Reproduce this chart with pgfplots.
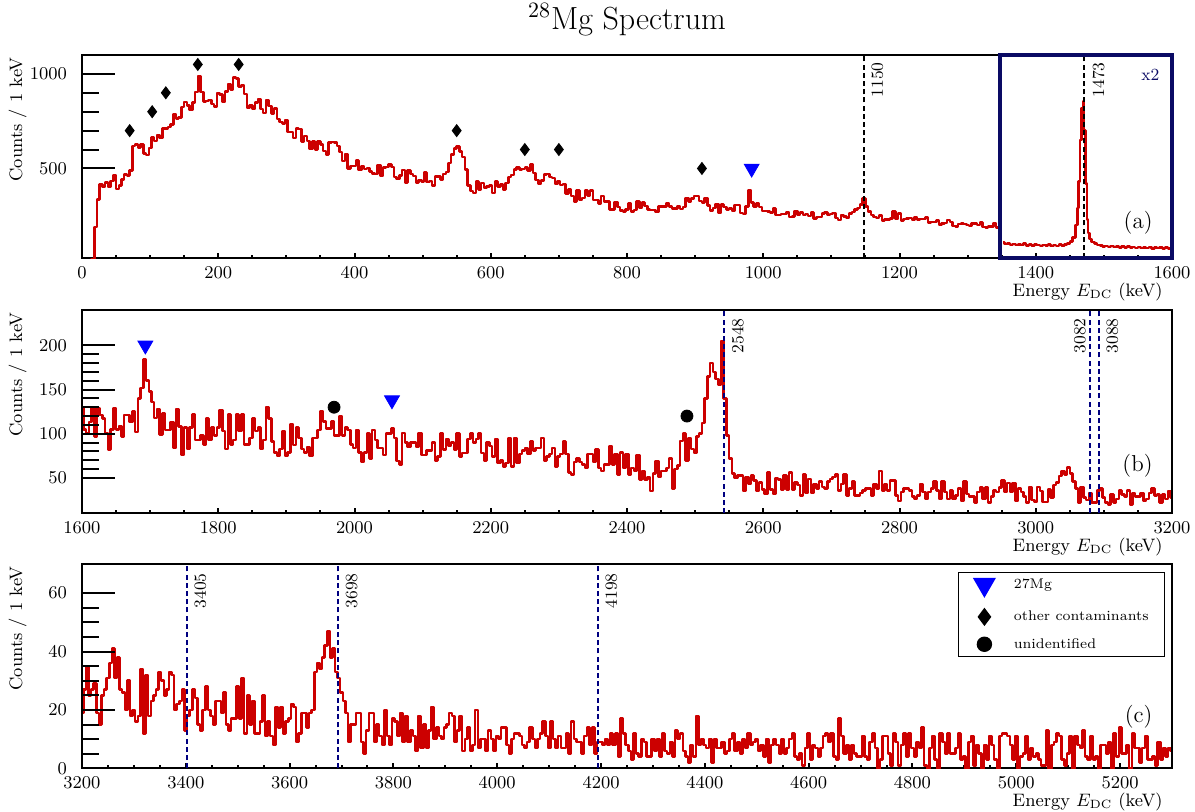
\documentclass[border=0pt]{standalone}
\usepackage{pgfplots}
\pgfplotsset{compat=1.18}
\usepackage{pgfplotstable}
\definecolor{hred}{RGB}{204,0,0}
\definecolor{navy}{RGB}{0,0,128}
\definecolor{boxnavy}{RGB}{10,10,100}
\definecolor{mblue}{RGB}{0,0,255}

\tikzset{
 dline/.style={dash pattern=on 2.5pt off 1.6pt, line width=1pt},
 vlab/.style={rotate=90, inner sep=0pt, font=\fontsize{8.5}{9}\selectfont},
}
\pgfplotsset{
 common/.style={scale only axis, width=545pt, anchor=south west,
   axis line style={line width=1pt}, tick style={line width=1pt, black},
   tick align=inside, tick label style={font=\fontsize{9}{10}\selectfont},
   /pgf/number format/1000 sep={}},
 main/.style={common, ytick=\empty, xtick pos=left, minor x tick num=3,
   major tick length=2.75pt, minor tick length=1.5pt,
   xlabel={Energy $E_{\mathrm{DC}}$ (keV)},
   xlabel style={at={(rel axis cs:1,0)}, anchor=north east, inner sep=0pt, yshift=-12pt, xshift=-4.5pt, font=\fontsize{9}{10}\selectfont},
   xticklabel style={yshift=-1pt}},
 yover/.style={common, hide x axis, ytick pos=left, major tick length=16.5pt, minor tick length=8.5pt, clip=false,
   ylabel={Counts / 1 keV},
   ylabel style={at={(axis description cs:-0.0505,0.99)}, anchor=south east, inner sep=0pt, font=\fontsize{9}{10}\selectfont},
   yticklabel style={xshift=-4pt}},
 spec/.style={hred, line width=1.25pt, line join=round, no markers, const plot mark mid},
}

\pgfplotstableread[row sep=\\]{
x y\\
0 0\\4 0\\8 0\\12 0\\16 20\\20 190\\24 335\\28 415\\
32 402\\36 426\\40 402\\44 434\\48 466\\52 392\\56 410\\60 442\\64 469\\68 463\\72 489\\76 618\\80 626\\84 610\\88 626\\92 578\\96 570\\
100 608\\104 663\\108 646\\112 677\\116 660\\120 712\\124 711\\128 718\\132 733\\136 788\\140 763\\144 770\\148 825\\152 851\\156 834\\160 809\\164 850\\168 905\\172 990\\176 905\\180 855\\184 858\\188 863\\192 841\\196 827\\
200 898\\204 890\\208 852\\212 907\\216 946\\220 918\\224 981\\228 975\\232 933\\236 940\\240 894\\244 820\\248 832\\252 814\\256 849\\260 868\\264 815\\268 794\\272 861\\276 830\\280 791\\284 816\\288 761\\292 746\\296 739\\
300 756\\304 692\\308 693\\312 661\\316 710\\320 708\\324 642\\328 672\\332 646\\336 604\\340 642\\344 600\\348 643\\352 627\\356 592\\360 574\\364 636\\368 641\\372 636\\376 618\\380 587\\384 540\\388 576\\392 499\\396 513\\
400 514\\404 543\\408 492\\412 514\\416 496\\420 502\\424 484\\428 474\\432 472\\436 518\\440 459\\444 504\\448 508\\452 520\\456 508\\460 456\\464 444\\468 464\\472 493\\476 426\\480 488\\484 470\\488 460\\492 426\\496 440\\
500 430\\504 478\\508 428\\512 434\\516 409\\520 457\\524 457\\528 441\\532 470\\536 480\\540 530\\544 575\\548 605\\552 615\\556 590\\560 560\\564 495\\568 410\\572 380\\576 370\\580 430\\584 390\\588 424\\592 396\\596 404\\
600 410\\604 370\\608 430\\612 404\\616 414\\620 390\\624 424\\628 454\\632 465\\636 495\\640 505\\644 494\\648 497\\652 505\\656 488\\660 520\\664 475\\668 440\\672 418\\676 435\\680 468\\684 472\\688 455\\692 450\\696 419\\
700 434\\704 413\\708 419\\712 368\\716 390\\720 354\\724 324\\728 384\\732 334\\736 344\\740 384\\744 356\\748 384\\752 334\\756 334\\760 316\\764 355\\768 326\\772 324\\776 282\\780 284\\784 322\\788 296\\792 278\\796 272\\
800 282\\804 314\\808 272\\812 280\\816 324\\820 290\\824 320\\828 302\\832 282\\836 280\\840 280\\844 270\\848 300\\852 299\\856 298\\860 318\\864 300\\868 288\\872 288\\876 302\\880 286\\884 296\\888 344\\892 324\\896 340\\
900 355\\904 354\\908 329\\912 320\\916 344\\920 305\\924 279\\928 292\\932 312\\936 265\\940 309\\944 295\\948 283\\952 289\\956 274\\960 308\\964 306\\968 265\\972 259\\976 300\\980 385\\984 320\\988 300\\992 314\\996 296\\
1000 276\\1004 276\\1008 273\\1012 267\\1016 287\\1020 255\\1024 254\\1028 260\\1032 260\\1036 269\\1040 244\\1044 246\\1048 276\\1052 254\\1056 268\\1060 254\\1064 260\\1068 249\\1072 268\\1076 236\\1080 244\\1084 244\\1088 263\\1092 266\\1096 255\\
1100 260\\1104 264\\1108 238\\1112 227\\1116 253\\1120 246\\1124 238\\1128 262\\1132 270\\1136 282\\1140 290\\1144 310\\1148 340\\1152 300\\1156 272\\1160 255\\1164 242\\1168 238\\1172 250\\1176 224\\1180 230\\1184 229\\1188 236\\1192 272\\1196 234\\
1200 263\\1204 226\\1208 234\\1212 235\\1216 237\\1220 228\\1224 243\\1228 230\\1232 233\\1236 232\\1240 241\\1244 214\\1248 218\\1252 218\\1256 224\\1260 200\\1264 209\\1268 212\\1272 227\\1276 218\\1280 197\\1284 194\\1288 207\\1292 210\\1296 205\\
1300 200\\1304 197\\1308 208\\1312 209\\1316 200\\1320 215\\1324 190\\1328 187\\1332 194\\1336 193\\1340 212\\1344 187\\
}\dataA

\pgfplotstableread[row sep=\\]{
x y\\
1352 108\\1356 100\\1360 104\\1364 96\\1368 101\\1372 94\\1376 99\\1380 95\\1384 102\\1388 93\\1392 97\\1396 92\\1400 98\\1404 94\\1408 90\\1412 96\\1416 92\\1420 99\\1424 91\\1428 95\\1432 90\\1436 97\\1440 93\\1444 98\\1448 102\\
1452 115\\1456 135\\1460 200\\1462 290\\1464 430\\1466 650\\1468 820\\1470 855\\1472 700\\1474 420\\1476 230\\1478 160\\1480 128\\1484 112\\1488 104\\1492 96\\1496 92\\
1500 88\\1504 91\\1508 85\\1512 89\\1516 84\\1520 88\\1524 83\\1528 87\\1532 82\\1536 86\\1540 81\\1544 85\\1548 80\\1552 84\\1556 79\\1560 83\\1564 80\\1568 84\\1572 78\\1576 82\\1580 79\\1584 83\\1588 77\\1592 81\\1596 78\\1600 76\\
}\dataAi

\pgfplotstableread[row sep=\\]{
x y\\
1600 129\\1604 105\\1608 101\\1612 113\\1616 129\\1620 97\\1624 129\\1628 121\\1632 117\\1636 101\\1640 82\\1644 105\\1648 129\\1652 105\\1656 109\\1660 97\\1664 121\\1668 121\\1672 113\\1676 125\\1680 102\\1684 140\\1688 152\\1692 184\\1696 160\\
1700 148\\1704 136\\1708 118\\1712 128\\1716 99\\1720 123\\1724 104\\1728 104\\1732 113\\1736 84\\1740 128\\1744 108\\1748 76\\1752 107\\1756 83\\1760 107\\1764 122\\1768 93\\1772 93\\1776 98\\1780 88\\1784 117\\1788 93\\1792 107\\1796 98\\
1800 107\\1804 127\\1808 103\\1812 83\\1816 122\\1820 88\\1824 93\\1828 122\\1832 103\\1836 122\\1840 88\\1844 88\\1848 95\\1852 117\\1856 103\\1860 107\\1864 83\\1868 93\\1872 130\\1876 117\\1880 91\\1884 79\\1888 75\\1892 83\\1896 103\\
1900 75\\1904 79\\1908 111\\1912 87\\1916 107\\1920 95\\1924 83\\1928 79\\1932 85\\1936 75\\1940 95\\1944 95\\1948 104\\1952 126\\1956 114\\1960 106\\1964 106\\1968 114\\1972 98\\1976 98\\1980 120\\1984 98\\1988 107\\1992 104\\1996 88\\
2000 84\\2004 104\\2008 79\\2012 68\\2016 79\\2020 100\\2024 72\\2028 104\\2032 93\\2036 84\\2040 84\\2044 76\\2048 100\\2052 100\\2056 106\\2060 95\\2064 69\\2068 65\\2072 101\\2076 90\\2080 85\\2084 90\\2088 90\\2092 85\\2096 101\\
2100 76\\2104 76\\2108 81\\2112 81\\2116 90\\2120 70\\2124 74\\2128 100\\2132 82\\2136 94\\2140 86\\2144 90\\2148 82\\2152 100\\2156 74\\2160 78\\2164 78\\2168 94\\2172 100\\2176 90\\2180 94\\2184 100\\2188 78\\2192 70\\2196 90\\
2200 86\\2204 74\\2208 94\\2212 67\\2216 70\\2220 63\\2224 67\\2228 95\\2232 63\\2236 95\\2240 67\\2244 77\\2248 81\\2252 84\\2256 77\\2260 91\\2264 81\\2268 84\\2272 84\\2276 95\\2280 70\\2284 74\\2288 77\\2292 84\\2296 63\\
2300 74\\2304 77\\2308 91\\2312 77\\2316 56\\2320 54\\2324 68\\2328 72\\2332 68\\2336 65\\2340 61\\2344 77\\2348 77\\2352 68\\2356 82\\2360 61\\2364 58\\2368 65\\2372 65\\2376 86\\2380 65\\2384 77\\2388 54\\2392 79\\2396 61\\
2400 77\\2404 54\\2408 61\\2412 58\\2416 76\\2420 48\\2424 58\\2428 48\\2432 51\\2436 35\\2440 55\\2444 69\\2448 51\\2452 58\\2456 58\\2460 61\\2464 72\\2468 38\\2472 60\\2476 64\\2480 92\\2484 100\\2488 70\\2492 95\\2496 83\\
2500 78\\2504 97\\2508 100\\2512 112\\2516 140\\2520 165\\2524 180\\2528 170\\2532 162\\2536 155\\2540 205\\2544 140\\2548 98\\2552 72\\2556 55\\2560 50\\2564 53\\2568 53\\2572 35\\2576 51\\2580 43\\2584 53\\2588 47\\2592 35\\2596 45\\
2600 37\\2604 32\\2608 56\\2612 37\\2616 32\\2620 50\\2624 48\\2628 37\\2632 53\\2636 37\\2640 56\\2644 37\\2648 45\\2652 42\\2656 30\\2660 54\\2664 33\\2668 49\\2672 33\\2676 43\\2680 38\\2684 46\\2688 40\\2692 38\\2696 46\\
2700 49\\2704 51\\2708 54\\2712 36\\2716 43\\2720 54\\2724 30\\2728 38\\2732 46\\2736 30\\2740 30\\2744 33\\2748 36\\2752 38\\2756 38\\2760 30\\2764 43\\2768 38\\2772 58\\2776 36\\2780 43\\2784 36\\2788 47\\2792 47\\2796 30\\
2800 24\\2804 34\\2808 38\\2812 38\\2816 36\\2820 29\\2824 26\\2828 30\\2832 43\\2836 34\\2840 26\\2844 34\\2848 38\\2852 46\\2856 36\\2860 26\\2864 46\\2868 34\\2872 26\\2876 36\\2880 26\\2884 30\\2888 38\\2892 24\\2896 46\\
2900 32\\2904 29\\2908 29\\2912 22\\2916 34\\2920 39\\2924 26\\2928 39\\2932 22\\2936 29\\2940 36\\2944 34\\2948 39\\2952 47\\2956 34\\2960 44\\2964 34\\2968 44\\2972 24\\2976 38\\2980 34\\2984 29\\2988 22\\2992 40\\2996 25\\
3000 23\\3004 40\\3008 35\\3012 23\\3016 23\\3020 37\\3024 28\\3028 42\\3032 45\\3036 52\\3040 58\\3044 54\\3048 62\\3052 55\\3056 46\\3060 38\\3064 22\\3068 40\\3072 28\\3076 25\\3080 33\\3084 22\\3088 22\\3092 36\\3096 38\\
3100 28\\3104 22\\3108 20\\3112 31\\3116 22\\3120 26\\3124 36\\3128 31\\3132 29\\3136 36\\3140 20\\3144 33\\3148 29\\3152 29\\3156 33\\3160 24\\3164 26\\3168 33\\3172 38\\3176 30\\3180 31\\3184 22\\3188 31\\3192 26\\3196 35\\3200 28\\
}\dataB

\pgfplotstableread[row sep=\\]{
x y\\
3200 19\\3205 27\\3210 35\\3215 25\\3220 27\\3225 29\\3230 19\\3235 15\\3240 25\\3245 27\\3250 31\\3255 36\\3260 41\\3265 31\\3270 38\\3275 27\\3280 26\\3285 20\\3290 30\\3295 18\\
3300 20\\3305 16\\3310 18\\3315 34\\3320 12\\3325 32\\3330 18\\3335 23\\3340 25\\3345 27\\3350 33\\3355 30\\3360 25\\3365 27\\3370 33\\3375 32\\3380 20\\3385 22\\3390 23\\3395 27\\
3400 13\\3405 18\\3410 20\\3415 27\\3420 24\\3425 15\\3430 13\\3435 20\\3440 28\\3445 20\\3450 18\\3455 15\\3460 23\\3465 23\\3470 19\\3475 26\\3480 15\\3485 13\\3490 17\\3495 17\\
3500 28\\3505 17\\3510 31\\3515 12\\3520 25\\3525 15\\3530 23\\3535 12\\3540 12\\3545 16\\3550 25\\3555 11\\3560 16\\3565 11\\3570 8\\3575 21\\3580 14\\3585 21\\3590 12\\3595 16\\
3600 17\\3605 22\\3610 21\\3615 9\\3620 12\\3625 19\\3630 19\\3635 14\\3640 19\\3645 20\\3650 33\\3655 36\\3660 34\\3665 38\\3670 42\\3675 47\\3680 38\\3685 41\\3690 33\\3695 31\\
3700 26\\3705 23\\3710 19\\3715 9\\3720 15\\3725 15\\3730 19\\3735 19\\3740 9\\3745 5\\3750 13\\3755 19\\3760 19\\3765 9\\3770 15\\3775 11\\3780 8\\3785 20\\3790 11\\3795 8\\
3800 17\\3805 16\\3810 11\\3815 19\\3820 9\\3825 18\\3830 9\\3835 13\\3840 11\\3845 6\\3850 18\\3855 7\\3860 15\\3865 7\\3870 13\\3875 21\\3880 10\\3885 14\\3890 11\\3895 10\\
3900 14\\3905 15\\3910 19\\3915 18\\3920 9\\3925 13\\3930 18\\3935 6\\3940 10\\3945 14\\3950 6\\3955 8\\3960 20\\3965 7\\3970 10\\3975 10\\3980 6\\3985 13\\3990 10\\3995 6\\
4000 11\\4005 10\\4010 14\\4015 14\\4020 8\\4025 5\\4030 10\\4035 12\\4040 12\\4045 11\\4050 8\\4055 7\\4060 9\\4065 14\\4070 10\\4075 7\\4080 10\\4085 12\\4090 16\\4095 11\\
4100 7\\4105 16\\4110 10\\4115 7\\4120 11\\4125 7\\4130 7\\4135 12\\4140 5\\4145 16\\4150 10\\4155 9\\4160 9\\4165 5\\4170 11\\4175 14\\4180 8\\4185 14\\4190 5\\4195 9\\
4200 9\\4205 8\\4210 10\\4215 8\\4220 12\\4225 8\\4230 12\\4235 4\\4240 17\\4245 12\\4250 8\\4255 6\\4260 3\\4265 12\\4270 5\\4275 4\\4280 10\\4285 9\\4290 4\\4295 4\\
4300 10\\4305 6\\4310 10\\4315 4\\4320 12\\4325 6\\4330 5\\4335 9\\4340 4\\4345 13\\4350 10\\4355 12\\4360 6\\4365 4\\4370 2\\4375 8\\4380 4\\4385 18\\4390 8\\4395 10\\
4400 8\\4405 7\\4410 10\\4415 2\\4420 10\\4425 7\\4430 7\\4435 9\\4440 5\\4445 6\\4450 10\\4455 12\\4460 6\\4465 9\\4470 5\\4475 10\\4480 7\\4485 12\\4490 8\\4495 9\\
4500 10\\4505 6\\4510 8\\4515 4\\4520 10\\4525 2\\4530 8\\4535 10\\4540 8\\4545 5\\4550 10\\4555 5\\4560 7\\4565 10\\4570 12\\4575 4\\
4580 3\\4585 5\\4590 1\\4595 7\\4600 12\\4605 3\\4610 8\\4615 7\\4620 4\\4625 7\\4630 11\\4635 12\\4640 9\\4645 12\\4650 4\\4655 3\\4660 17\\4665 11\\4670 5\\4675 8\\4680 3\\4685 8\\4690 5\\4695 4\\
4700 4\\4705 11\\4710 4\\4715 3\\4720 9\\4725 12\\4730 7\\4735 0\\4740 3\\4745 11\\4750 11\\4755 5\\4760 1\\4765 12\\4770 9\\4775 1\\4780 8\\4785 12\\4790 4\\4795 12\\
4800 7\\4805 4\\4810 9\\4815 7\\4820 14\\4825 1\\4830 0\\4835 7\\4840 11\\4845 3\\4850 0\\4855 12\\4860 9\\4865 5\\4870 12\\4875 5\\4880 5\\4885 7\\4890 12\\4895 3\\
4900 4\\4905 0\\4910 9\\4915 11\\4920 1\\4925 8\\4930 5\\4935 0\\4940 8\\4945 3\\4950 11\\4955 8\\4960 3\\4965 0\\4970 11\\4975 12\\4980 12\\4985 11\\4990 8\\4995 3\\
5000 11\\5005 0\\5010 4\\5015 5\\5020 11\\5025 3\\5030 7\\5035 4\\5040 5\\5045 3\\5050 1\\5055 1\\5060 13\\5065 0\\5070 8\\5075 9\\5080 12\\5085 11\\5090 3\\5095 1\\
5100 5\\5105 11\\5110 0\\5115 11\\5120 8\\5125 7\\5130 13\\5135 4\\5140 3\\5145 11\\5150 3\\5155 4\\5160 0\\5165 8\\5170 8\\5175 5\\5180 9\\5185 0\\5190 12\\5195 4\\
5200 14\\5205 5\\5210 5\\5215 8\\5220 0\\5225 12\\5230 7\\5235 7\\5240 2\\5245 7\\5250 11\\5255 3\\5260 3\\5265 4\\5270 1\\5275 9\\5280 3\\5285 7\\5290 4\\5295 7\\5300 6\\
}\dataC

\begin{document}
\begin{tikzpicture}
\path[use as bounding box] (0,0) rectangle (597.5pt,406pt);

% ---------------- panel (a)
\begin{axis}[main, at={(41pt,276.85pt)}, height=101.65pt,
  xmin=0, xmax=1600, ymin=25, ymax=1100, xtick={0,200,...,1600},
  title={$^{28}$Mg Spectrum},
  title style={font=\fontsize{16}{19}\selectfont, at={(0.5,1)}, anchor=base, yshift=6.5pt}]
\addplot[spec] table {\dataA};
\addplot[spec] table {\dataAi};
\addplot[only marks, mark=diamond*, mark size=3pt, black] coordinates {(70,700)(103,800)(123,900)(170,1050)(230,1050)(550,700)(650,600)(700,600)(910,500)};
\addplot[only marks, mark=triangle*, mark size=4.3pt, mark options={rotate=180}, color=mblue] coordinates {(983,500)};
\end{axis}
\begin{axis}[yover, at={(41pt,276.85pt)}, height=101.65pt,
  xmin=0, xmax=1600, ymin=25, ymax=1100, ytick={500,1000}, minor y tick num=4]
\draw[dline, black] (axis cs:1148,25) -- (axis cs:1148,1100);
\path (axis cs:1148,1100) ++(3.5pt,-3.5pt) node[vlab, anchor=north east] {1150};
\draw[dline, black] (axis cs:1471,25) -- (axis cs:1471,1100);
\path (axis cs:1471,1100) ++(4pt,-3.5pt) node[vlab, anchor=north east] {1473};
\draw[boxnavy, line width=2pt] (axis cs:1348,25) rectangle (axis cs:1600,1100);
\node[anchor=east, inner sep=0pt, text=boxnavy, font=\fontsize{8.5}{9}\selectfont] at (axis cs:1582,994) {x2};
\node[anchor=east, inner sep=0pt, font=\fontsize{11.5}{13}\selectfont] at (axis cs:1572,211) {(a)};
\end{axis}

% ---------------- panel (b)
\begin{axis}[main, at={(41pt,149.35pt)}, height=101.65pt,
  xmin=1600, xmax=3200, ymin=10, ymax=240, xtick={1600,1800,...,3200}]
\addplot[spec] table {\dataB};
\addplot[only marks, mark=triangle*, mark size=4.3pt, mark options={rotate=180}, color=mblue] coordinates {(1693,200)(2055,138)};
\addplot[only marks, mark=*, mark size=3pt, black] coordinates {(1970,130)(2488,120)};
\end{axis}
\begin{axis}[yover, at={(41pt,149.35pt)}, height=101.65pt,
  xmin=1600, xmax=3200, ymin=10, ymax=240, ytick={50,100,150,200}, minor y tick num=4]
\draw[dline, navy] (axis cs:2543,10) -- (axis cs:2543,240);
\path (axis cs:2543,240) ++(3.5pt,-4pt) node[vlab, anchor=north east] {2548};
\draw[dline, navy] (axis cs:3080,10) -- (axis cs:3080,240);
\path (axis cs:3080,240) ++(-2pt,-4pt) node[vlab, anchor=south east] {3082};
\draw[dline, navy] (axis cs:3093,10) -- (axis cs:3093,240);
\path (axis cs:3093,240) ++(3.5pt,-4pt) node[vlab, anchor=north east] {3088};
\node[anchor=east, inner sep=0pt, font=\fontsize{11.5}{13}\selectfont] at (axis cs:3172,63.7) {(b)};
\end{axis}

% ---------------- panel (c)
\begin{axis}[main, at={(41pt,21.85pt)}, height=102.15pt,
  xmin=3200, xmax=5300, ymin=0, ymax=70, xtick={3200,3400,...,5200},
  legend image code/.code={\draw[#1] plot coordinates {(0pt,0pt)};},
  legend style={at={(0.9936,0.961)}, anchor=north east, draw=black, line width=0.7pt,
    font=\fontsize{7}{8.5}\selectfont, inner xsep=7.8pt, inner ysep=2.6pt,
    row sep=6.2pt, column sep=9.5pt, nodes={inner sep=0pt, text height=5.2pt, text depth=1.4pt}},
  legend cell align=left]
\addlegendimage{mark=triangle*, mark size=6pt, mark options={rotate=180}, color=mblue}
\addlegendentry{27Mg}
\addlegendimage{mark=diamond*, mark size=4pt, black}
\addlegendentry{other contaminants}
\addlegendimage{mark=*, mark size=3.5pt, black}
\addlegendentry{unidentified}
\addplot[spec, forget plot] table {\dataC};
\end{axis}
\begin{axis}[yover, at={(41pt,21.85pt)}, height=102.15pt,
  xmin=3200, xmax=5300, ymin=0, ymax=70, ytick={0,20,40,60}, minor y tick num=3]
\draw[dline, navy] (axis cs:3402,0) -- (axis cs:3402,70);
\path (axis cs:3402,70) ++(3.5pt,-4.5pt) node[vlab, anchor=north east] {3405};
\draw[dline, navy] (axis cs:3694,0) -- (axis cs:3694,70);
\path (axis cs:3694,70) ++(3.5pt,-4.5pt) node[vlab, anchor=north east] {3698};
\draw[dline, navy] (axis cs:4194,0) -- (axis cs:4194,70);
\path (axis cs:4194,70) ++(3.5pt,-4.5pt) node[vlab, anchor=north east] {4198};
\node[anchor=east, inner sep=0pt, font=\fontsize{11.5}{13}\selectfont] at (axis cs:5263,17.7) {(c)};
\end{axis}
\end{tikzpicture}
\end{document}
